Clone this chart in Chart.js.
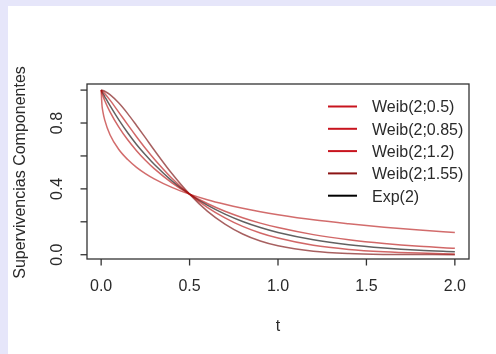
<!DOCTYPE html>
<html>
<head>
<meta charset="utf-8">
<script src="https://cdn.jsdelivr.net/npm/chart.js@4"></script>
<style>
  html, body { margin: 0; padding: 0; }
  body { width: 496px; height: 354px; background: #e6e6fa; position: relative; overflow: hidden; }
  #panel { position: absolute; left: 8px; top: 6px; width: 488px; height: 348px; background: #ffffff; }
  #wrap { position: absolute; left: 0; top: 0; width: 496px; height: 354px; }
</style>
</head>
<body>
<div id="panel"></div>
<div id="wrap"><canvas id="c" width="496" height="354"></canvas></div>
<script>
// Time grid (denser near 0 where the curves bend sharply)
const tValues = [0, 0.005, 0.01, 0.02, 0.05, 0.1, 0.15, 0.2, 0.25, 0.3, 0.4, 0.5,
                 0.6, 0.7, 0.8, 0.9, 1.0, 1.2, 1.4, 1.6, 1.8, 2.0];

// Survival of each component at those times
const weib050 = [1, 0.905, 0.868, 0.819, 0.729, 0.639, 0.578, 0.531, 0.493, 0.461, 0.409, 0.368,
                 0.334, 0.306, 0.282, 0.261, 0.243, 0.212, 0.188, 0.167, 0.150, 0.135];
const weib085 = [1, 0.980, 0.965, 0.937, 0.868, 0.775, 0.698, 0.632, 0.574, 0.523, 0.437, 0.368,
                 0.311, 0.264, 0.225, 0.192, 0.165, 0.122, 0.091, 0.068, 0.051, 0.039];
const weib120 = [1, 0.996, 0.991, 0.979, 0.939, 0.865, 0.790, 0.717, 0.647, 0.582, 0.465, 0.368,
                 0.288, 0.224, 0.172, 0.132, 0.101, 0.057, 0.032, 0.018, 0.010, 0.005];
const weib155 = [1, 0.999, 0.998, 0.993, 0.972, 0.921, 0.857, 0.785, 0.711, 0.636, 0.493, 0.368,
                 0.265, 0.186, 0.126, 0.083, 0.054, 0.021, 0.007, 0.002, 0.001, 0.000];
const exp2    = [1, 0.990, 0.980, 0.961, 0.905, 0.819, 0.741, 0.670, 0.607, 0.549, 0.449, 0.368,
                 0.301, 0.247, 0.202, 0.165, 0.135, 0.091, 0.061, 0.041, 0.027, 0.018];

const seriesLabels = ['Weib(2;0.5)', 'Weib(2;0.85)', 'Weib(2;1.2)', 'Weib(2;1.55)', 'Exp(2)'];
const seriesValues = [weib050, weib085, weib120, weib155, exp2];
const lineColors   = ['rgba(180,10,10,0.6)', 'rgba(180,10,10,0.62)', 'rgba(180,10,10,0.62)',
                      'rgba(120,10,10,0.65)', 'rgba(0,0,0,0.62)'];
const keyColors    = ['#c8141e', '#c8141e', '#c8141e', '#8c1414', '#000000'];

const xTicks = [0, 0.5, 1.0, 1.5, 2.0];
const xTickLabels = ['0.0', '0.5', '1.0', '1.5', '2.0'];
const yTicks = [0, 0.2, 0.4, 0.6, 0.8, 1.0];
const yTickLabels = {0: '0.0', 0.4: '0.4', 0.8: '0.8'};

const xTitle = 't';
const yTitle = 'Supervivencias Componentes';

const FONT = '"Liberation Sans", Arial, sans-serif';
const INK = '#2a2a2a';

// Base-graphics style frame, ticks, labels and key
const basePlot = {
  id: 'basePlot',
  afterDatasetsDraw(chart) {
    const { ctx, chartArea: a, scales: { x, y } } = chart;
    ctx.save();
    // frame
    ctx.strokeStyle = '#333';
    ctx.lineWidth = 1.3;
    ctx.strokeRect(a.left, a.top, a.right - a.left, a.bottom - a.top);

    // x axis ticks + labels
    ctx.fillStyle = INK;
    ctx.font = '16px ' + FONT;
    ctx.textAlign = 'center';
    ctx.textBaseline = 'middle';
    xTicks.forEach((v, i) => {
      const px = x.getPixelForValue(v);
      ctx.beginPath();
      ctx.moveTo(px, a.bottom);
      ctx.lineTo(px, a.bottom + 6.5);
      ctx.stroke();
      ctx.fillText(xTickLabels[i], px, a.bottom + 28);
    });

    // y axis ticks + rotated labels
    yTicks.forEach(v => {
      const py = y.getPixelForValue(v);
      ctx.beginPath();
      ctx.moveTo(a.left, py);
      ctx.lineTo(a.left - 6.5, py);
      ctx.stroke();
      const lab = yTickLabels[v];
      if (lab) {
        ctx.save();
        ctx.translate(a.left - 29, py);
        ctx.rotate(-Math.PI / 2);
        ctx.fillText(lab, 0, 0);
        ctx.restore();
      }
    });

    // axis titles
    ctx.fillText(xTitle, (x.getPixelForValue(1.0)), a.bottom + 68);
    ctx.save();
    ctx.translate(21, (a.top + a.bottom) / 2 + 1);
    ctx.rotate(-Math.PI / 2);
    ctx.fillText(yTitle, 0, 0);
    ctx.restore();

    // key
    ctx.textAlign = 'left';
    const kx0 = 328, kx1 = 357, tx = 372;
    const ky0 = 106.5, step = 22.3;
    seriesLabels.forEach((lab, i) => {
      const ky = ky0 + i * step;
      ctx.strokeStyle = keyColors[i];
      ctx.lineWidth = 2;
      ctx.beginPath();
      ctx.moveTo(kx0, ky);
      ctx.lineTo(kx1, ky);
      ctx.stroke();
      ctx.fillStyle = INK;
      ctx.fillText(lab, tx, ky + 1.5);
    });
    ctx.restore();
  }
};

new Chart(document.getElementById('c'), {
  type: 'line',
  data: {
    datasets: seriesValues.map((vals, i) => ({
      label: seriesLabels[i],
      data: tValues.map((t, j) => ({ x: t, y: vals[j] })),
      borderColor: lineColors[i],
      borderWidth: 1.5,
      pointRadius: 0,
      fill: false,
      cubicInterpolationMode: 'monotone'
    }))
  },
  options: {
    responsive: false,
    animation: false,
    devicePixelRatio: 1,
    layout: { padding: { left: 87, top: 84, right: 27, bottom: 95 } },
    plugins: { legend: { display: false }, tooltip: { enabled: false } },
    scales: {
      x: { type: 'linear', min: -0.08, max: 2.08, display: false },
      y: { type: 'linear', min: -0.026, max: 1.037, display: false }
    }
  },
  plugins: [basePlot]
});
</script>
</body>
</html>
